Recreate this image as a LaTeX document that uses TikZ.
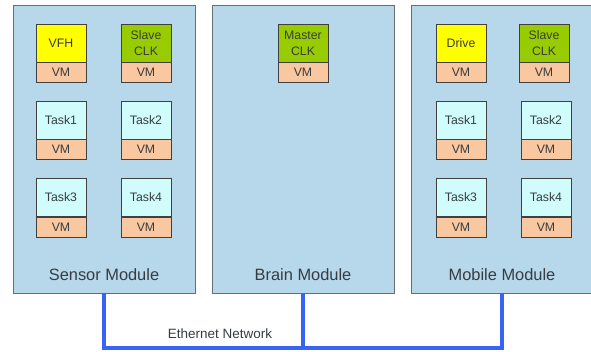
\documentclass[tikz,border=0pt]{standalone}
\usepackage{fontspec}
\setmainfont{Liberation Sans}
\usepackage{tikz}
\usetikzlibrary{positioning}
\definecolor{modblue}{RGB}{183, 216, 234}
\definecolor{modgray}{RGB}{105, 110, 115}
\definecolor{taskcyan}{RGB}{208, 252, 252}
\definecolor{vmpeach}{RGB}{250, 200, 160}
\definecolor{appyellow}{RGB}{255, 255, 0}
\definecolor{clkgreen}{RGB}{153, 204, 0}
\definecolor{netblue}{RGB}{55, 100, 245}
\definecolor{labelgray}{RGB}{55, 60, 65}

\begin{document}
\begin{tikzpicture}[x=0.03cm, y=-0.03cm,
    module/.style={draw=modgray, fill=modblue, line width=0.7pt, minimum width=5.46cm, minimum height=8.64cm, inner sep=0pt},
    modlabel/.style={font=\fontsize{14}{16}\selectfont, text=labelgray},
    taskbox/.style={draw=black!75, fill=taskcyan, line width=0.5pt, minimum width=1.5cm, minimum height=1.14cm, inner sep=0pt, align=center, font=\fontsize{10.5}{12.5}\selectfont, text=labelgray},
    vmbox/.style={draw=black!75, fill=vmpeach, line width=0.5pt, minimum width=1.5cm, minimum height=0.6cm, inner sep=0pt, font=\fontsize{10.5}{12.5}\selectfont, text=labelgray},
    netline/.style={draw=netblue, line width=2.8pt}]

    \useasboundingbox (0,0) rectangle (591,351);

    % Modules
    \node[module] (sensor) at (104, 149) {};
    \node[module] (brain) at (303, 149) {};
    \node[module] (mobile) at (502, 149) {};

    \node[modlabel] (sensorlbl) at (104, 275) {Sensor Module};
    \node[modlabel] (brainlbl) at (303, 275) {Brain Module};
    \node[modlabel] (mobilelbl) at (502, 275) {Mobile Module};

    % Sensor module tasks
    \node[taskbox, fill=appyellow] (vfh) at (61, 43) {VFH};
    \node[vmbox, below=0pt of vfh] (vfhvm) {VM};
    \node[taskbox, fill=clkgreen] (sclk1) at (146, 43) {Slave\\[1pt]CLK};
    \node[vmbox, below=0pt of sclk1] (sclk1vm) {VM};
    \node[taskbox] (s1) at (61, 120) {Task1};
    \node[vmbox, below=0pt of s1] (s1vm) {VM};
    \node[taskbox] (s2) at (146, 120) {Task2};
    \node[vmbox, below=0pt of s2] (s2vm) {VM};
    \node[taskbox] (s3) at (61, 197.5) {Task3};
    \node[vmbox, below=0pt of s3] (s3vm) {VM};
    \node[taskbox] (s4) at (146, 197.5) {Task4};
    \node[vmbox, below=0pt of s4] (s4vm) {VM};

    % Brain module task
    \node[taskbox, fill=clkgreen] (mclk) at (303, 43) {Master\\[1pt]CLK};
    \node[vmbox, below=0pt of mclk] (mclkvm) {VM};

    % Mobile module tasks
    \node[taskbox, fill=appyellow] (drive) at (461, 43) {Drive};
    \node[vmbox, below=0pt of drive] (drivevm) {VM};
    \node[taskbox, fill=clkgreen] (sclk2) at (544, 43) {Slave\\[1pt]CLK};
    \node[vmbox, below=0pt of sclk2] (sclk2vm) {VM};
    \node[taskbox] (m1) at (461, 120) {Task1};
    \node[vmbox, below=0pt of m1] (m1vm) {VM};
    \node[taskbox] (m2) at (546, 120) {Task2};
    \node[vmbox, below=0pt of m2] (m2vm) {VM};
    \node[taskbox] (m3) at (461, 197.5) {Task3};
    \node[vmbox, below=0pt of m3] (m3vm) {VM};
    \node[taskbox] (m4) at (546, 197.5) {Task4};
    \node[vmbox, below=0pt of m4] (m4vm) {VM};

    % Ethernet network
    \coordinate (nsensor) at (104, 348);
    \coordinate (nmobile) at (502, 348);
    \draw[netline] (sensor.south) -- (nsensor) -- (nmobile) -- (mobile.south);
    \draw[netline] (brain.south) -- (brain.south |- nsensor);
    \node[font=\fontsize{11.5}{13}\selectfont, text=labelgray] (netlbl) at (220, 334) {Ethernet Network};

\end{tikzpicture}
\end{document}
